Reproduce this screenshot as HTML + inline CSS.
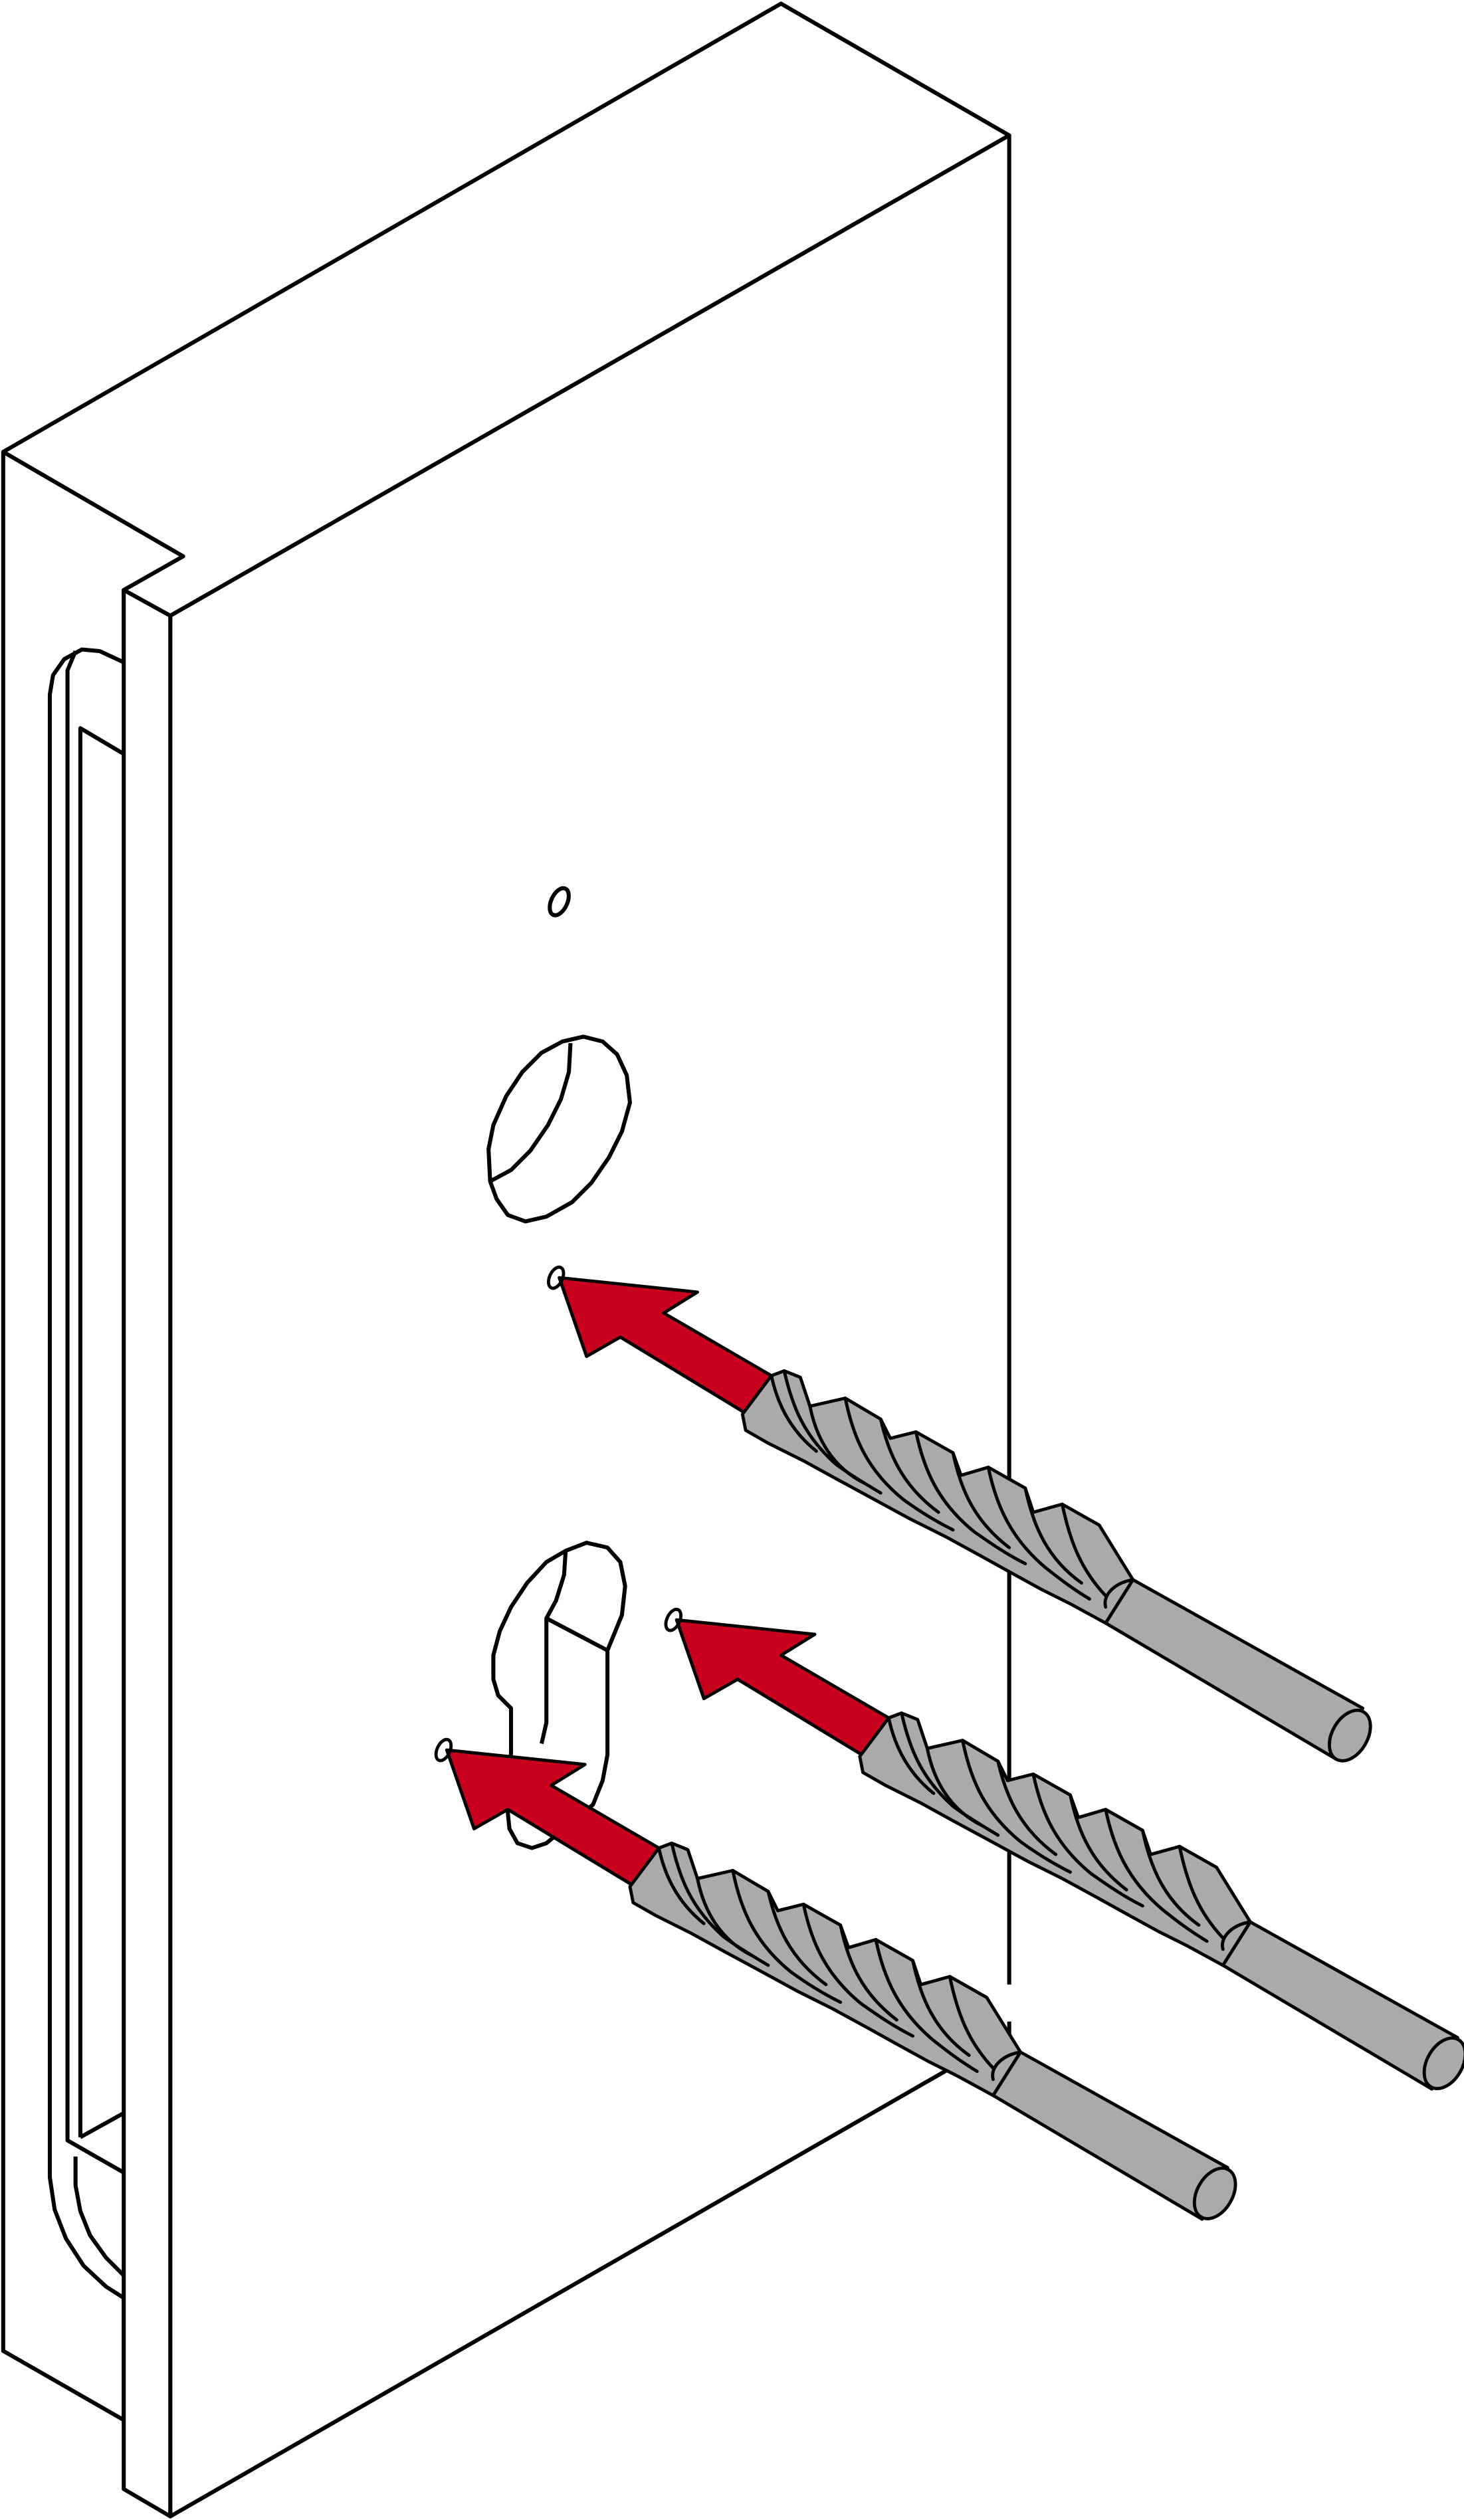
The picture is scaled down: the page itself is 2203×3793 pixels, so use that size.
<!DOCTYPE html>
<html><head><meta charset="utf-8"><style>html,body{margin:0;padding:0;background:#fff}svg{display:block}</style></head>
<body>
<svg width="2203" height="3793" viewBox="0 0 911 1568" xmlns="http://www.w3.org/2000/svg">
<defs>
<g id="drill" stroke="#000" stroke-width="2" stroke-linejoin="round" stroke-linecap="round">
  <polygon points="0,0 86,9 65,22 132,61 117,85 38,37 17,49" fill="#c8001e"/>
  <path d="M132,61 L140,58 L150,62 L156,80 L178,75 L200,88 L206,100 L222,96 L245,109 L250,123 L267,118 L290,131 L295,146 L313,141 L336,154 L357,188 L340,215 L318,203 L300,194 L280,183 L262,173 L240,161 L218,150 L196,138 L172,125 L152,114 L130,103 L116,95 L114,85 Z" fill="#aaa"/>
  <g fill="none">
    <path d="M132,61 C136,80 145,96 160,108"/>
    <path d="M140,58 C145,80 152,98 172,116 C180,122 190,128 200,134"/>
    <path d="M156,80 C160,100 170,118 190,128"/>
    <path d="M178,75 C183,100 192,120 214,138 C225,146 235,152 245,157"/>
    <path d="M200,88 C205,110 214,130 236,146"/>
    <path d="M222,96 C227,120 236,140 258,158 C268,165 278,172 290,178"/>
    <path d="M245,109 C250,133 259,152 280,168"/>
    <path d="M267,118 C272,142 281,162 302,180 C312,188 320,194 330,200"/>
    <path d="M290,131 C295,155 304,175 325,190"/>
    <path d="M313,141 C318,165 325,182 340,198"/>
    <path d="M340,205 C338,198 345,190 357,188"/>
  </g>
  <ellipse cx="-2" cy="0" rx="4" ry="7" transform="rotate(25 -2 0)" fill="none"/>
</g>
<g id="shaftA" stroke="#000" stroke-width="2" stroke-linejoin="round">
  <polygon points="357,188 500,268 484,300 340,215" fill="#aaa"/>
  <ellipse cx="492" cy="285" rx="11" ry="17" transform="rotate(30 492 285)" fill="#aaa"/>
</g>
<g id="shaftB" stroke="#000" stroke-width="2" stroke-linejoin="round">
  <polygon points="357,188 486,260 470,292 340,215" fill="#aaa"/>
  <ellipse cx="478" cy="276" rx="11" ry="17" transform="rotate(30 478 276)" fill="#aaa"/>
</g>
</defs>
<g fill="#fff" stroke="#000" stroke-width="2.5" stroke-linejoin="round">
  <polygon points="2,281 114,346 77,367 77,1506 2,1463"/>
  <path d="M77,412 L62,405 L51,404 L40,410 L33,420 L31,432 L31,1355 L34,1375 L41,1393 L52,1410 L66,1423 L77,1430" fill="#fff"/>
  <path d="M47,405 L42,417 L42,1332 L77,1352 M50,1330 L50,453 L77,469 M50,1330 L77,1315" fill="none"/>
  <path d="M47,1342 L47,1360 L50,1376 L56,1391 L66,1405 L77,1416" fill="none"/>
  <polygon points="2,281 486,2 628,84 106,383 77,367 114,346"/>
  <polygon points="77,367 106,383 106,1566 77,1549"/>
  <polygon points="106,383 628,84 628,1266 106,1566"/>
  <line x1="628" y1="1235" x2="628" y2="1258" stroke="#fff" stroke-width="4"/>
  <ellipse cx="348" cy="561" rx="5" ry="9" transform="rotate(25 348 561)"/>
  <path d="M304,715 L307,700 L315,682 L325,667 L337,655 L350,648 L363,645 L375,648 L384,656 L390,669 L392,686 L387,704 L379,720 L368,736 L356,748 L340,757 L327,760 L316,756 L309,746 L305,735 Z"/>
  <path d="M355,649 L354,667 L349,684 L341,700 L330,716 L318,728 L305,735" fill="none"/>
  <path d="M352,965 L365,960 L378,963 L386,972 L389,987 L387,1005 L378,1027 L378,1092 L375,1108 L369,1123 L340,1147 L331,1150 L322,1147 L317,1138 L316,1128 L318,1090 L318,1063 L310,1055 L307,1045 L307,1030 L311,1015 L318,1000 L328,985 L340,972 Z"/>
  <path d="M352,965 L351,980 L346,996 L340,1007 L378,1027 M340,1007 L340,1072 L337,1085" fill="none"/>
</g>
<g transform="translate(348,795)"><use href="#shaftA"/><use href="#drill"/></g>
<g transform="translate(421,1008)"><use href="#shaftB"/><use href="#drill"/></g>
<g transform="translate(278,1089)"><use href="#shaftB"/><use href="#drill"/></g>
</svg>
</body></html>
